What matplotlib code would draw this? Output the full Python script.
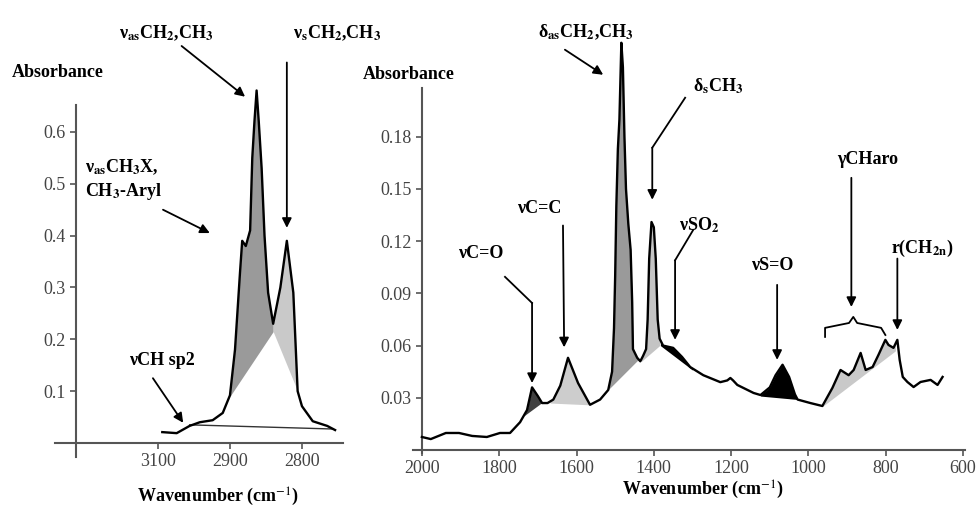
import numpy as np
import matplotlib
matplotlib.use('Agg')
import matplotlib.pyplot as plt

plt.rcParams['font.family'] = ['Liberation Serif', 'DejaVu Serif']
plt.rcParams['mathtext.fontset'] = 'stix'

# left panel: C-H stretching region
left_wn = [2994, 2974, 2956, 2942, 2924, 2910, 2900, 2893, 2886, 2883, 2878, 2872, 2869,
           2866, 2863, 2860, 2856, 2852, 2847, 2840, 2830, 2821, 2812, 2806, 2800, 2785,
           2765, 2754]
left_abs = [0.021, 0.019, 0.033, 0.040, 0.044, 0.058, 0.092, 0.18, 0.33, 0.39, 0.38, 0.41,
            0.55, 0.62, 0.68, 0.62, 0.53, 0.40, 0.29, 0.23, 0.30, 0.39, 0.29, 0.10, 0.071,
            0.042, 0.033, 0.025]
left_base_wn = [2956, 2757]
left_base_abs = [0.035, 0.027]
left_yticks = [0.1, 0.2, 0.3, 0.4, 0.5, 0.6]
left_xticks = [3000, 2900, 2800]
left_xticklabels = ['3100', '2900', '2800']

# right panel: 2000-600 cm-1
right_wn = [2000, 1977, 1938, 1904, 1870, 1832, 1798, 1772, 1746, 1728, 1715, 1700, 1689,
            1675, 1660, 1642, 1622, 1596, 1565, 1539, 1518, 1508, 1503, 1500, 1497, 1493,
            1489, 1484, 1480, 1476, 1472, 1466, 1460, 1456, 1454, 1443, 1435, 1428, 1420,
            1416, 1412, 1406, 1400, 1395, 1390, 1385, 1376, 1350, 1327, 1306, 1272, 1228,
            1210, 1202, 1195, 1184, 1142, 1124, 1100, 1085, 1067, 1050, 1035, 1028, 995,
            964, 938, 917, 896, 883, 865, 852, 834, 819, 801, 793, 780, 770, 764, 756,
            744, 728, 710, 684, 666, 653]
right_abs = [0.0075, 0.0063, 0.0098, 0.0098, 0.0081, 0.0075, 0.0098, 0.0098, 0.016, 0.023,
             0.036, 0.031, 0.027, 0.027, 0.029, 0.037, 0.053, 0.0385, 0.026, 0.029, 0.0345,
             0.045, 0.07, 0.10, 0.14, 0.173, 0.19, 0.234, 0.22, 0.18, 0.15, 0.13, 0.115,
             0.085, 0.058, 0.053, 0.051, 0.054, 0.058, 0.075, 0.11, 0.131, 0.128, 0.11,
             0.075, 0.064, 0.060, 0.0587, 0.0535, 0.0477, 0.043, 0.039, 0.040, 0.0414,
             0.040, 0.0374, 0.0328, 0.0316, 0.036, 0.043, 0.049, 0.042, 0.032, 0.029,
             0.027, 0.0253, 0.0357, 0.046, 0.043, 0.046, 0.0558, 0.046, 0.0477, 0.0546,
             0.0633, 0.0604, 0.0587, 0.0633, 0.0518, 0.042, 0.0391, 0.0362, 0.0391,
             0.0403, 0.0374, 0.042]
right_yticks = [0.03, 0.06, 0.09, 0.12, 0.15, 0.18]
right_xticks = [2000, 1800, 1600, 1400, 1200, 1000, 800, 600]

# shaded bands: (start wn, end wn, baseline at start, baseline at end, colour)
left_bands = [(2900, 2840, 0.09, 0.215, '#9a9a9a'),
              (2840, 2806, 0.215, 0.10, '#c9c9c9')]
right_bands = [(1740, 1685, 0.019, 0.028, '#404040'),
               (1668, 1568, 0.027, 0.026, '#cdcdcd'),
               (1530, 1440, 0.032, 0.052, '#9a9a9a'),
               (1432, 1385, 0.051, 0.060, '#c4c4c4'),
               (1383, 1300, 0.060, 0.046, 'black'),
               (1124, 1026, 0.031, 0.029, 'black'),
               (964, 775, 0.025, 0.057, '#c9c9c9')]

AX_COL = '#555555'
TXT = dict(fontsize=13, fontweight='bold', color='black')
ARROW = dict(arrowstyle='-|>', color='black', lw=1.3, mutation_scale=14, shrinkA=0, shrinkB=0)


def shade(ax, wn, ab, w1, w2, b1, b2, color):
    x = np.linspace(w2, w1, 300)
    y = np.interp(x, wn[::-1], ab[::-1])
    base = np.interp(x, [w2, w1], [b2, b1])
    ax.fill_between(x, base, y, where=y >= base, color=color, lw=0, clip_on=False, zorder=2)


def setup(ax, xcross):
    for s in ['top', 'right']:
        ax.spines[s].set_visible(False)
    ax.spines['left'].set_position(('data', xcross))
    ax.spines['bottom'].set_position(('data', 0))
    for s in ['left', 'bottom']:
        ax.spines[s].set_color(AX_COL)
        ax.spines[s].set_linewidth(1.5)
    ax.tick_params(direction='out', length=4, width=1.2, color=AX_COL,
                   labelsize=13, labelcolor='#444444')
    ax.patch.set_visible(False)


def poly_arrow(ax, xs, ys):
    ax.plot(xs[:-1], ys[:-1], color='black', lw=1.3, clip_on=False)
    ax.annotate('', xy=(xs[-1], ys[-1]), xytext=(xs[-2], ys[-2]), arrowprops=ARROW,
                annotation_clip=False)


fig = plt.figure(figsize=(9.76, 5.12), dpi=100)

# ---- left panel
axL = fig.add_axes([55 / 976, 55 / 512, 288 / 976, 352 / 512])
axL.set_xlim(3143, 2743)
axL.set_ylim(-0.027, 0.652)
setup(axL, 3114)
lw = np.array(left_wn)
la = np.array(left_abs)
for b in left_bands:
    shade(axL, lw, la, *b)
axL.plot(left_base_wn, left_base_abs, color='#333333', lw=1.0, zorder=3)
axL.plot(lw, la, color='black', lw=1.7, zorder=4, clip_on=False)
axL.set_yticks(left_yticks)
axL.set_yticklabels([f'{v:.1f}' for v in left_yticks])
axL.set_xticks(left_xticks)
axL.set_xticklabels(left_xticklabels)

axL.text(3203, 0.714, 'Absorbance', ha='left', va='center', **TXT)
axL.annotate(r'ν$_\mathbf{as}$CH$_\mathbf{2}$,CH$_\mathbf{3}$', xy=(2879, 0.668),
             xytext=(2989, 0.79), ha='center', va='center', arrowprops=ARROW,
             annotation_clip=False, **TXT)
axL.text(2751, 0.79, r'ν$_\mathbf{s}$CH$_\mathbf{2}$,CH$_\mathbf{3}$',
         ha='center', va='center', **TXT)
axL.annotate('', xy=(2821, 0.415), xytext=(2821, 0.734), arrowprops=ARROW,
             annotation_clip=False)
axL.text(3101, 0.508, 'ν$_\\mathbf{as}$CH$_\\mathbf{3}$X,\nCH$_\\mathbf{3}$-Aryl',
         ha='left', va='center', linespacing=1.3, **TXT)
axL.annotate('', xy=(2928, 0.405), xytext=(2993, 0.45), arrowprops=ARROW,
             annotation_clip=False)
axL.text(2994, 0.16, 'νCH sp2', ha='center', va='center', **TXT)
axL.annotate('', xy=(2965, 0.039), xytext=(3007, 0.125), arrowprops=ARROW,
             annotation_clip=False)
fig.text(218 / 976, 1 - 497 / 512, 'Wavenumber (cm$^{-1}$)', ha='center', va='center', **TXT)

# ---- right panel
axR = fig.add_axes([413 / 976, 59 / 512, 552 / 976, 365 / 512])
axR.set_xlim(2023, 595)
axR.set_ylim(-0.0017, 0.208)
setup(axR, 2000)
rw = np.array(right_wn)
ra = np.array(right_abs)
for b in right_bands:
    shade(axR, rw, ra, *b)
axR.plot(rw, ra, color='black', lw=1.7, zorder=4, clip_on=False)
axR.set_yticks(right_yticks)
axR.set_yticklabels([f'{v:.2f}' for v in right_yticks])
axR.set_xticks(right_xticks)
axR.set_xticklabels([str(v) for v in right_xticks])

axR.text(2152, 0.2156, 'Absorbance', ha='left', va='center', **TXT)
axR.text(1575, 0.240, r'δ$_\mathbf{as}$CH$_\mathbf{2}$,CH$_\mathbf{3}$',
         ha='center', va='center', **TXT)
axR.annotate('', xy=(1531, 0.2156), xytext=(1630, 0.230), arrowprops=ARROW,
             annotation_clip=False)
axR.text(1234, 0.2087, r'δ$_\mathbf{s}$CH$_\mathbf{3}$', ha='center', va='center', **TXT)
poly_arrow(axR, [1319, 1404, 1404], [0.2024, 0.1737, 0.1438])
axR.text(1697, 0.139, 'νC=C', ha='center', va='center', **TXT)
axR.annotate('', xy=(1632, 0.059), xytext=(1635, 0.129), arrowprops=ARROW,
             annotation_clip=False)
axR.text(1847, 0.113, 'νC=O', ha='center', va='center', **TXT)
poly_arrow(axR, [1785, 1715, 1715], [0.0995, 0.0845, 0.0385])
axR.text(1283, 0.129, r'νSO$_\mathbf{2}$', ha='center', va='center', **TXT)
poly_arrow(axR, [1298, 1345, 1345], [0.1265, 0.109, 0.0633])
axR.text(1094, 0.106, 'νS=O', ha='center', va='center', **TXT)
axR.annotate('', xy=(1081, 0.0518), xytext=(1081, 0.0949), arrowprops=ARROW,
             annotation_clip=False)
axR.text(848, 0.1668, 'γCHaro', ha='center', va='center', **TXT)
axR.annotate('', xy=(889, 0.0822), xytext=(889, 0.1564), arrowprops=ARROW,
             annotation_clip=False)
# brace over the aromatic C-H band
axR.plot([957, 957, 895, 884, 874, 812, 801], [0.065, 0.0702, 0.073, 0.0765, 0.073, 0.0702, 0.0661],
         color='black', lw=1.3, clip_on=False)
axR.text(706, 0.116, r'r(CH$_\mathbf{2n}$)', ha='center', va='center', **TXT)
axR.annotate('', xy=(770, 0.069), xytext=(770, 0.110), arrowprops=ARROW,
             annotation_clip=False)
fig.text(703 / 976, 1 - 490 / 512, 'Wavenumber (cm$^{-1}$)', ha='center', va='center', **TXT)

fig.savefig('out.png', dpi=100)
